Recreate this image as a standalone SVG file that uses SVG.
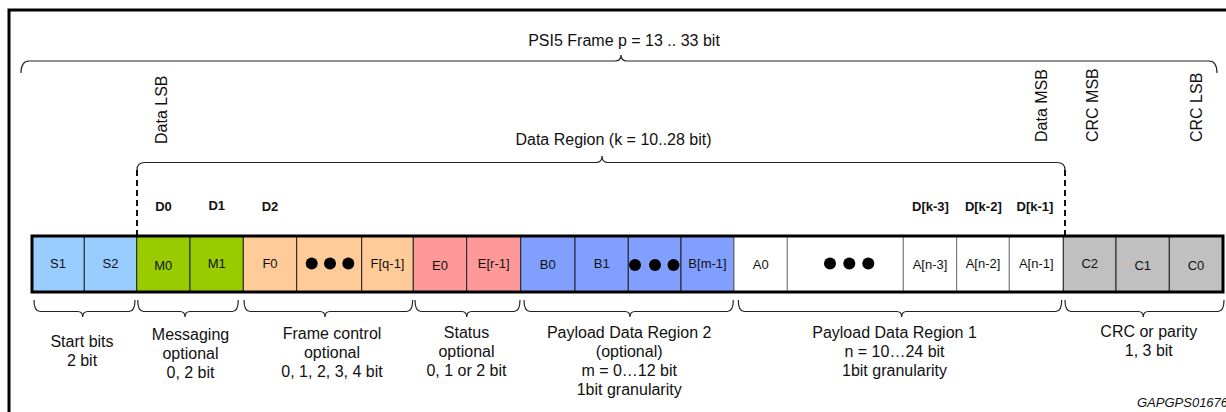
<svg xmlns="http://www.w3.org/2000/svg" width="1226" height="412" viewBox="0 0 1226 412">
<style>
text{font-family:"Liberation Sans",Arial,sans-serif;fill:#111}
.lbl{font-size:16px;text-anchor:middle}
.cell{font-size:13px;text-anchor:middle}
.d{font-size:13px;font-weight:bold;text-anchor:middle}
.rot{font-size:16px}
.brace{fill:none;stroke:#222;stroke-width:1.2}
.dash{fill:none;stroke:#111;stroke-width:2;stroke-dasharray:6 4}
.sep{stroke:#222;stroke-width:1}
.sepw{stroke:#777;stroke-width:1}
</style>
<rect x="9" y="10" width="1240" height="420" fill="#fff" stroke="#000" stroke-width="3"/>

<g id="frame-label">
<text class="lbl" x="624" y="46">PSI5 Frame p = 13 .. 33 bit</text>
</g>
<g id="data-region-label">
<text class="lbl" x="613.5" y="145">Data Region (k = 10..28 bit)</text>
</g>
<g id="markers">
<text class="rot" transform="translate(166.5,144) rotate(-90)">Data LSB</text>
<text class="rot" transform="translate(1046.5,142) rotate(-90)">Data MSB</text>
<text class="rot" transform="translate(1097.5,142) rotate(-90)">CRC MSB</text>
<text class="rot" transform="translate(1201.5,142) rotate(-90)">CRC LSB</text>
</g>
<g id="d-labels">
<text class="d" x="163.5" y="211">D0</text>
<text class="d" x="216.7" y="210">D1</text>
<text class="d" x="270" y="211">D2</text>
<text class="d" x="930.5" y="211">D[k-3]</text>
<text class="d" x="983.3" y="211">D[k-2]</text>
<text class="d" x="1035" y="211">D[k-1]</text>
</g>

<g id="connectors">
<path class="brace" d="M21,73 Q21,61 29,61 L615,61 Q621,61 621,55 Q621,61 627,61 L1209,61 Q1217,61 1217,73"/>
<path class="brace" d="M137,170 Q137,162.5 145,162.5 L596,162.5 Q602,162.5 602,156 Q602,162.5 608,162.5 L1057,162.5 Q1065,162.5 1065,170"/>
<path class="dash" d="M137,170 L137,235"/>
<path class="dash" d="M1065,170 L1065,235"/>
<path class="brace" d="M34,300 Q34,311.5 40,311.5 L77.5,311.5 Q82.7,311.5 82.7,317 Q82.7,311.5 88,311.5 L129,311.5 Q135,311.5 135,300"/>
<path class="brace" d="M137.7,300 Q137.7,311.5 143.7,311.5 L180,311.5 Q185,311.5 185,317 Q185,311.5 190,311.5 L232.3,311.5 Q238.3,311.5 238.3,300"/>
<path class="brace" d="M244,300 Q244,311.5 250,311.5 L320,311.5 Q325,311.5 325,317 Q325,311.5 330,311.5 L406.7,311.5 Q412.7,311.5 412.7,300"/>
<path class="brace" d="M415,300 Q415,311.5 421,311.5 L461.7,311.5 Q466.7,311.5 466.7,317 Q466.7,311.5 471.7,311.5 L514,311.5 Q520,311.5 520,300"/>
<path class="brace" d="M524,300 Q524,311.5 530,311.5 L625,311.5 Q630,311.5 630,317 Q630,311.5 635,311.5 L727.3,311.5 Q733.3,311.5 733.3,300"/>
<path class="brace" d="M738.3,300 Q738.3,311.5 744.3,311.5 L896.7,311.5 Q901.7,311.5 901.7,317 Q901.7,311.5 906.7,311.5 L1055.7,311.5 Q1061.7,311.5 1061.7,300"/>
<path class="brace" d="M1065,300 Q1065,311.5 1071,311.5 L1138.3,311.5 Q1143.3,311.5 1143.3,317 Q1143.3,311.5 1148.3,311.5 L1218,311.5 Q1224,311.5 1224,300"/>
</g>

<g id="cells">
<g id="cell-S1"><rect x="32" y="236" width="52.3" height="56" fill="#99ccff" stroke="#222"/><text class="cell" x="58" y="268">S1</text></g>
<g id="cell-S2"><rect x="84.3" y="236" width="52.4" height="56" fill="#99ccff" stroke="#222"/><text class="cell" x="110.5" y="268">S2</text></g>
<g id="cell-M0"><rect x="136.7" y="236" width="53.3" height="56" fill="#99cc00" stroke="#222"/><text class="cell" x="163.3" y="269.5">M0</text></g>
<g id="cell-M1"><rect x="190" y="236" width="53.3" height="56" fill="#99cc00" stroke="#222"/><text class="cell" x="216.7" y="268">M1</text></g>
<g id="cell-F0"><rect x="243.3" y="236" width="53.4" height="56" fill="#ffcc99" stroke="#222"/><text class="cell" x="270" y="268">F0</text></g>
<g id="cell-Fdots"><rect x="296.7" y="236" width="65" height="56" fill="#ffcc99" stroke="#222"/><circle cx="311.7" cy="263.5" r="6" fill="#000"/><circle cx="330" cy="263.5" r="6" fill="#000"/><circle cx="348.3" cy="263.5" r="6" fill="#000"/></g>
<g id="cell-Fq1"><rect x="361.7" y="236" width="51.6" height="56" fill="#ffcc99" stroke="#222"/><text class="cell" x="387.5" y="268">F[q-1]</text></g>
<g id="cell-E0"><rect x="413.3" y="236" width="53.4" height="56" fill="#ff9999" stroke="#222"/><text class="cell" x="440" y="269.5">E0</text></g>
<g id="cell-Er1"><rect x="466.7" y="236" width="54" height="56" fill="#ff9999" stroke="#222"/><text class="cell" x="493.7" y="268">E[r-1]</text></g>
<g id="cell-B0"><rect x="520.7" y="236" width="54.3" height="56" fill="#809fff" stroke="#222"/><text class="cell" x="547.8" y="269">B0</text></g>
<g id="cell-B1"><rect x="575" y="236" width="53.3" height="56" fill="#809fff" stroke="#222"/><text class="cell" x="601.7" y="267.5">B1</text></g>
<g id="cell-Bdots"><rect x="628.3" y="236" width="52.7" height="56" fill="#809fff" stroke="#222"/><circle cx="635" cy="265" r="6" fill="#000"/><circle cx="655" cy="265" r="6" fill="#000"/><circle cx="673.5" cy="265" r="6" fill="#000"/></g>
<g id="cell-Bm1"><rect x="681" y="236" width="53" height="56" fill="#809fff" stroke="#222"/><text class="cell" x="707.5" y="268">B[m-1]</text></g>
<g id="cell-A0"><rect x="734" y="236" width="53.3" height="56" fill="#fff" stroke="#777"/><text class="cell" x="760.7" y="269">A0</text></g>
<g id="cell-Adots"><rect x="787.3" y="236" width="116" height="56" fill="#fff" stroke="#777"/><circle cx="830" cy="263.5" r="6" fill="#000"/><circle cx="849.3" cy="263.5" r="6" fill="#000"/><circle cx="868.3" cy="263.5" r="6" fill="#000"/></g>
<g id="cell-An3"><rect x="903.3" y="236" width="53.4" height="56" fill="#fff" stroke="#777"/><text class="cell" x="930" y="269">A[n-3]</text></g>
<g id="cell-An2"><rect x="956.7" y="236" width="52.6" height="56" fill="#fff" stroke="#777"/><text class="cell" x="983" y="268">A[n-2]</text></g>
<g id="cell-An1"><rect x="1009.3" y="236" width="54" height="56" fill="#fff" stroke="#777"/><text class="cell" x="1036.3" y="268">A[n-1]</text></g>
<g id="cell-C2"><rect x="1063.3" y="236" width="52.7" height="56" fill="#c0c0c0" stroke="#222"/><text class="cell" x="1089.7" y="268">C2</text></g>
<g id="cell-C1"><rect x="1116" y="236" width="53.3" height="56" fill="#c0c0c0" stroke="#222"/><text class="cell" x="1142.7" y="270">C1</text></g>
<g id="cell-C0"><rect x="1169.3" y="236" width="53.7" height="56" fill="#c0c0c0" stroke="#222"/><text class="cell" x="1196" y="269.5">C0</text></g>
<rect x="32" y="236" width="1191" height="56" fill="none" stroke="#000" stroke-width="3"/>
</g>

<g id="group-labels">
<text class="lbl" x="82" y="346.5">Start bits<tspan x="82" dy="19">2 bit</tspan></text>
<text class="lbl" x="190.5" y="339.5">Messaging<tspan x="190.5" dy="19">optional</tspan><tspan x="190.5" dy="19">0, 2 bit</tspan></text>
<text class="lbl" x="332" y="338.5">Frame control<tspan x="332" dy="19">optional</tspan><tspan x="332" dy="19">0, 1, 2, 3, 4 bit</tspan></text>
<text class="lbl" x="466.5" y="337.5">Status<tspan x="466.5" dy="19">optional</tspan><tspan x="466.5" dy="19">0, 1 or 2 bit</tspan></text>
<text class="lbl" x="629.2" y="337.5">Payload Data Region 2<tspan x="629.2" dy="19">(optional)</tspan><tspan x="629.2" dy="19">m = 0…12 bit</tspan><tspan x="629.2" dy="19">1bit granularity</tspan></text>
<text class="lbl" x="894.5" y="337.5">Payload Data Region 1<tspan x="894.5" dy="19">n = 10…24 bit</tspan><tspan x="894.5" dy="19">1bit granularity</tspan></text>
<text class="lbl" x="1148.8" y="336.5">CRC or parity<tspan x="1148.8" dy="19">1, 3 bit</tspan></text>
</g>
<text x="1137" y="406.5" style="font-size:13px;font-style:italic">GAPGPS01676</text>
</svg>
